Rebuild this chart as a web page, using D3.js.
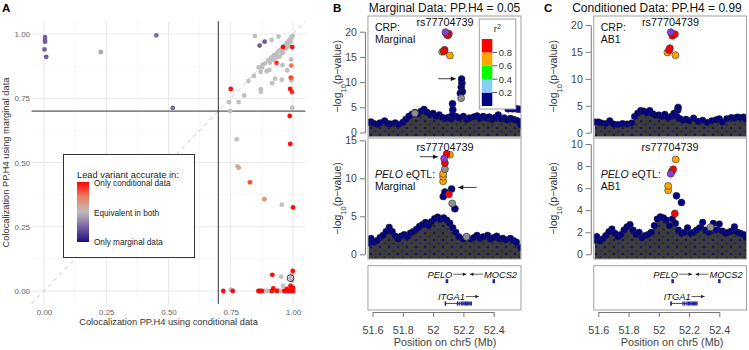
<!DOCTYPE html>
<html><head><meta charset="utf-8">
<script src="https://cdn.jsdelivr.net/npm/d3@7"></script>
<style>body{margin:0;background:#fff}svg{display:block}text{font-family:'Liberation Sans',Arial,sans-serif}</style>
</head><body><svg id="c" width="749" height="350"></svg>
<script>
// ---------------- Panel A data ----------------
const condPP = [0.004,0.004,0.004,0.002,0.009,0.228,0.451,0.517,
 0.847,0.866,0.886,0.914,0.942,0.960,0.997,0.934,0.993,0.991,0.995,0.989,0.996,0.997,0.987,0.989,
 0.750,0.774,0.776,0.782,0.747,0.743,0.782,0.804,0.821,0.843,0.870,0.862,0.871,0.871,0.894,0.878,
 0.916,0.928,0.955,0.905,0.958,0.977,0.992,0.993,
 0.888,0.901,0.914,0.924,0.934,0.945,0.955,0.964,0.975,0.983,0.991,0.999,0.908,0.934,0.955,0.972,
 0.985,0.946,0.960,0.978,0.990,0.995,0.920,0.875,
 0.827,0.885,0.955,1.000,
 0.917,0.952,0.999,0.997,0.997,0.997,0.985,0.921,1.000,0.960,0.990,0.975,0.995,
 0.720,0.750,0.758,0.861,0.867,0.875,0.885,0.893,0.903,0.915,0.925,0.935,0.945,0.955,0.965,0.975,
 0.985,0.992,1.000,0.980,0.940,0.990];
const margPP = [0.988,0.977,0.970,0.940,0.911,0.930,0.995,0.712,
 0.992,0.955,0.970,0.977,0.990,0.949,0.949,0.888,0.877,0.830,0.829,0.786,0.774,0.713,0.681,0.572,
 0.786,0.590,0.486,0.480,0.700,0.735,0.735,0.761,0.817,0.837,0.853,0.870,0.785,0.775,0.855,0.880,
 0.809,0.826,0.822,0.860,0.879,0.859,0.901,0.820,
 0.886,0.899,0.909,0.918,0.925,0.935,0.944,0.953,0.964,0.974,0.983,0.992,0.889,0.909,0.925,0.944,
 0.961,0.912,0.930,0.950,0.970,0.990,0.900,0.870,
 0.423,0.357,0.336,0.325,
 0.063,0.056,0.078,0.065,0.040,0.019,0.012,0.010,0.012,0.020,0.020,0.008,0.005,
 0.000,0.005,0.000,0.000,0.000,0.000,0.000,0.000,0.000,0.000,0.000,0.000,0.000,0.000,0.000,0.000,
 0.000,0.000,0.000,0.003,0.002,0.050];
const leadDiff = [-0.55,-0.55,-0.55,-0.55,-0.6,-0.15,-0.5,-0.5,
 0,-0.6,-0.6,0,0,1,1,0.95,0.6,0.85,0,1,0.95,0,1,1,
 1,0,0,0.3,0,0,0,0,0,0,0,0,0,0,0,0,
 0,0,0,0,0,0,0,0,
 0,0,0,0,0,0,0,0,0,0,0,0,0,0,0,0,
 0,0,0,0,0,0,0,0,
 0.85,0.4,0,1,
 1,0,1,0,0,0,0,1,1,0,1,1,1,
 1,0,1,1,1,1,0,0,0,1,0,1,0,0,1,1,
 1,1,1,0,0,0];
const hlCond = [0.99], hlMarg = [0.05];
const aTicks = [0,0.25,0.5,0.75,1];
const aMinor = [0.125,0.375,0.625,0.875];
const legendLabels = ["Only conditional data","Equivalent in both","Only marginal data"];

// ---------------- Locus data ----------------
const posTicks = [51.6,51.8,52,52.2,52.4];
const r2Breaks = [0.2,0.4,0.6,0.8];
const r2Colors = ["#000080","#87cefa","#00ff00","#ffa500","#ff0000"];

// B top: CRP marginal
const bTopPos  = [51.575,51.59,51.61,51.63,51.65,51.68,51.70,51.72,51.75,51.77,51.80,51.82,51.84,51.86,51.88,51.90,51.92,51.94,51.96,51.98,52.00,52.02,52.04,52.06,52.08,52.10,52.12,52.15,52.17,52.20,52.22,52.24,52.27,52.29,52.31,52.33,52.35,52.37,52.39,52.41,52.43,52.45,52.47,52.49,52.51,52.53,52.55,52.565,52.578];
const bTopLogP = [2.0,2.1,1.8,1.6,1.9,2.3,1.8,1.7,1.9,1.6,2.0,2.6,3.2,3.6,4.0,3.7,4.2,4.6,4.0,3.5,3.8,3.2,3.5,3.0,2.8,3.0,2.7,3.2,2.9,3.2,2.6,2.9,3.1,3.3,2.8,3.2,2.9,3.1,2.6,3.0,3.5,2.7,2.9,2.5,2.8,2.6,2.4,2.2,1.5];
const bTopHitPos  = [52.128,52.130,52.126,52.180,52.193,52.186,52.190,52.188,52.185,52.495,52.524,52.550,52.567,51.880,52.060,52.111,52.076,52.070,52.086,52.098,52.104,52.093,52.082];
const bTopHitLogP = [5.7,4.5,3.4,7.8,8.1,9.0,9.8,10.6,6.8,4.7,4.7,4.7,4.6,3.8,16.0,15.3,16.4,16.1,19.7,19.3,19.6,19.4,19.9];
const bTopHitR2   = ["navy","navy","navy","navy","navy","navy","navy","navy","gray","navy","navy","navy","navy","gray","orange","orange","red","red","orange","red","red","red","lead"];

// B bottom: PELO eQTL marginal
const bBotPos  = [51.575,51.59,51.61,51.63,51.65,51.67,51.69,51.71,51.73,51.75,51.77,51.79,51.81,51.83,51.85,51.87,51.89,51.91,51.93,51.95,51.97,51.99,52.01,52.03,52.05,52.07,52.09,52.11,52.13,52.15,52.17,52.20,52.22,52.25,52.27,52.29,52.31,52.33,52.36,52.38,52.40,52.42,52.44,52.46,52.48,52.51,52.53,52.55,52.578];
const bBotLogP = [1.5,2.1,1.6,1.8,2.2,2.5,3.0,3.55,3.0,2.4,2.0,2.4,2.6,2.3,2.8,3.0,3.3,3.7,3.9,4.2,3.8,4.3,4.7,4.9,4.6,4.8,4.5,4.1,3.5,2.9,2.3,2.0,2.3,2.0,2.2,2.5,2.1,2.3,2.5,2.0,2.2,2.4,2.0,2.1,1.9,2.1,1.8,1.6,0.9];
const bBotHitPos  = [52.220,52.144,52.126,52.067,52.078,52.122,52.104,52.066,52.066,52.066,52.078,52.078,52.111,52.089,52.073];
const bBotHitLogP = [2.3,6.0,6.7,7.6,8.2,8.6,7.9,9.6,10.2,10.6,11.2,12.0,13.1,13.2,12.6];
const bBotHitR2   = ["gray","navy","gray","navy","navy","navy","red","orange","orange","orange","gray","red","orange","red","lead"];

// C top: CRP conditioned (AB1)
const cTopPos  = [51.577,51.60,51.62,51.65,51.676,51.70,51.73,51.76,51.79,51.82,51.84,51.86,51.88,51.90,51.92,51.94,51.96,51.98,52.00,52.02,52.04,52.06,52.08,52.10,52.12,52.14,52.16,52.18,52.20,52.23,52.26,52.29,52.32,52.35,52.38,52.40,52.42,52.45,52.48,52.50,52.52,52.54,52.56,52.578];
const cTopLogP = [2.0,2.0,1.8,1.7,2.2,1.6,1.5,1.7,1.6,1.8,3.0,3.6,4.1,4.0,3.7,4.1,3.5,3.2,3.3,3.0,3.4,2.8,3.0,3.6,3.0,2.6,2.3,2.5,2.2,2.7,2.1,2.3,1.9,2.2,2.4,2.6,2.0,2.6,2.8,2.7,2.9,2.8,2.9,2.5];
const cTopHitPos  = [52.125,52.128,52.110,52.057,52.068,52.073,52.090,52.106,52.079];
const cTopHitLogP = [4.2,4.7,14.4,14.9,15.3,15.7,18.0,18.3,18.66];
const cTopHitR2   = ["navy","navy","orange","orange","red","red","red","red","lead"];

// C bottom: PELO eQTL conditioned (AB1)
const cBotPos  = [51.577,51.59,51.61,51.63,51.65,51.67,51.69,51.71,51.73,51.75,51.77,51.79,51.81,51.83,51.85,51.87,51.89,51.91,51.93,51.95,51.97,51.99,52.01,52.03,52.05,52.07,52.09,52.11,52.13,52.15,52.17,52.19,52.21,52.23,52.25,52.27,52.29,52.31,52.33,52.36,52.38,52.40,52.42,52.44,52.46,52.48,52.50,52.52,52.54,52.56,52.578];
const cBotLogP = [1.3,1.6,1.2,1.4,1.7,2.05,2.3,1.9,1.6,1.8,2.2,2.5,2.7,2.2,1.8,2.0,1.5,1.7,1.8,2.0,2.6,3.2,3.4,3.3,3.1,2.6,3.2,2.8,2.2,1.9,2.0,2.4,1.9,2.0,2.2,2.4,2.9,2.2,2.0,2.8,2.2,2.75,2.1,1.9,2.0,2.1,2.5,2.0,1.9,1.8,1.5];
const cBotHitPos  = [52.342,52.150,52.117,52.106,52.062,52.062,52.086,52.095,52.112,52.079];
const cBotHitLogP = [2.45,4.7,5.3,3.7,5.8,6.2,7.5,7.7,8.6,7.3];
const cBotHitR2   = ["gray","navy","navy","red","orange","orange","red","red","orange","lead"];

// genes
const geneNames  = ["PELO","MOCS2","ITGA1"];
const geneStart  = [52.083,52.392,52.080];
const geneEnd    = [52.100,52.405,52.255];
const geneStrand = ["+","-","+"];
const geneRow    = [0,0,1];
const itga1Exons = [52.080,52.082,52.160,52.172,52.186,52.196,52.204,52.212,52.220,52.228,52.236,52.244,52.252];

// ---------------- drawing ----------------
const svg = d3.select("#c");
const FONT = "'Liberation Sans', Arial, sans-serif";
const defs = svg.append("defs");
// texture of the dense, overlapping background SNP cloud
const pat = defs.append("pattern").attr("id","cloud").attr("patternUnits","userSpaceOnUse").attr("width",9).attr("height",7);
pat.append("rect").attr("width",9).attr("height",7).attr("fill","#3c3c3c");
pat.append("circle").attr("cx",2).attr("cy",2).attr("r",1.3).attr("fill","#17175c");
pat.append("circle").attr("cx",6.5).attr("cy",5.5).attr("r",1.0).attr("fill","#20204f");

// ===== Panel A =====
(function(){
  const x = d3.scaleLinear().domain([0,1]).range([44,293]);
  const y = d3.scaleLinear().domain([0,1]).range([291,34]);
  const lo=-0.05, hi=1.05;
  const g = svg.append("g");
  g.selectAll(".mnx").data(aMinor).join("line").attr("x1",d=>x(d)).attr("x2",d=>x(d)).attr("y1",y(lo)).attr("y2",y(hi)).attr("stroke","#f2f2f2").attr("stroke-width",0.6);
  g.selectAll(".mny").data(aMinor).join("line").attr("y1",d=>y(d)).attr("y2",d=>y(d)).attr("x1",x(lo)).attr("x2",x(hi)).attr("stroke","#f2f2f2").attr("stroke-width",0.6);
  g.selectAll(".mjx").data(aTicks).join("line").attr("x1",d=>x(d)).attr("x2",d=>x(d)).attr("y1",y(lo)).attr("y2",y(hi)).attr("stroke","#e8e8e8").attr("stroke-width",1);
  g.selectAll(".mjy").data(aTicks).join("line").attr("y1",d=>y(d)).attr("y2",d=>y(d)).attr("x1",x(lo)).attr("x2",x(hi)).attr("stroke","#e8e8e8").attr("stroke-width",1);
  g.append("line").attr("x1",x(lo)).attr("y1",y(lo)).attr("x2",x(hi)).attr("y2",y(hi)).attr("stroke","#c8c8c8").attr("stroke-width",1).attr("stroke-dasharray","4,4");
  g.append("line").attr("x1",x(0.7)).attr("x2",x(0.7)).attr("y1",y(lo)).attr("y2",y(hi)).attr("stroke","#333").attr("stroke-width",1);
  g.append("line").attr("y1",y(0.7)).attr("y2",y(0.7)).attr("x1",x(lo)).attr("x2",x(hi)).attr("stroke","#333").attr("stroke-width",1);
  const col = d3.scaleLinear().domain([-1,0,1]).range(["#1b0d82","#bdbdbd","#ff0000"]).interpolate(d3.interpolateLab);
  const idx = d3.range(condPP.length).sort((a,b)=>Math.abs(leadDiff[a])-Math.abs(leadDiff[b]));
  g.selectAll(".pt").data(idx).join("circle").attr("cx",i=>x(condPP[i])).attr("cy",i=>y(margPP[i])).attr("r",2.4).attr("fill",i=>col(leadDiff[i])).attr("opacity",0.95);
  g.selectAll(".hl").data(hlCond).join("circle").attr("cx",(d)=>x(d)).attr("cy",(d,i)=>y(hlMarg[i])).attr("r",3.4).attr("fill","none").attr("stroke","#222").attr("stroke-width",0.9);
  const ax = g.append("g").attr("transform",`translate(0,${y(lo)})`).call(d3.axisBottom(x).tickValues(aTicks).tickSize(0).tickPadding(5).tickFormat(d3.format(".2f")));
  ax.select(".domain").remove();
  ax.selectAll("text").attr("fill","#666").style("font-size","8px").style("font-family",FONT);
  const ay = g.append("g").attr("transform",`translate(${x(lo)},0)`).call(d3.axisLeft(y).tickValues(aTicks).tickSize(0).tickPadding(1.5).tickFormat(d3.format(".2f")));
  ay.select(".domain").remove();
  ay.selectAll("text").attr("fill","#666").style("font-size","8px").style("font-family",FONT);
  g.append("text").attr("x",(x(lo)+x(hi))/2).attr("y",325).attr("text-anchor","middle").attr("fill","#333").style("font-size","9.3px").text("Colocalization PP.H4 using conditional data");
  g.append("text").attr("transform",`translate(9,${(y(lo)+y(hi))/2}) rotate(-90)`).attr("text-anchor","middle").attr("fill","#333").style("font-size","9.3px").text("Colocalization PP.H4 using marginal data");
  const lg = g.append("g");
  lg.append("rect").attr("x",63.5).attr("y",154.5).attr("width",131).attr("height",103).attr("fill","#fff").attr("stroke","#333").attr("stroke-width",1);
  lg.append("text").attr("x",77).attr("y",177.5).attr("fill","#222").style("font-size","9.3px").text("Lead variant accurate in:");
  const gr = defs.append("linearGradient").attr("id","lgA").attr("x1",0).attr("x2",0).attr("y1",0).attr("y2",1);
  [1,0.5,0,-0.5,-1].forEach((v,i)=>gr.append("stop").attr("offset",i/4).attr("stop-color",col(v)));
  lg.append("rect").attr("x",77).attr("y",182).attr("width",12).attr("height",60).attr("fill","url(#lgA)");
  lg.selectAll(".ll").data(legendLabels).join("text").attr("x",94).attr("y",(d,i)=>186+i*29.5).attr("fill","#222").style("font-size","8.2px").text(d=>d);
  svg.append("text").attr("x",2).attr("y",11.5).attr("font-weight","bold").style("font-size","11.5px").text("A");
})();

// ===== Locus panels =====
const r2Fill = {navy:"#000080",lblue:"#87cefa",green:"#00ff00",orange:"#ffa500",red:"#ff0000",gray:"#8f8f8f",lead:"#8a3fd1"};
let clipN=0;
function locus(cfg){
  const x = d3.scaleLinear().domain([51.6,52.4]).range(cfg.xr);
  const y = d3.scaleLinear().domain([0,cfg.ymax]).range(cfg.yr);
  const bx0 = x(51.57), bx1 = x(52.58);
  const g = svg.append("g");
  const id = "clip"+(clipN++);
  defs.append("clipPath").attr("id",id).append("rect").attr("x",bx0).attr("y",cfg.box[0]).attr("width",bx1-bx0).attr("height",cfg.box[1]-cfg.box[0]);
  const p = g.append("g").attr("clip-path",`url(#${id})`);
  const bg = cfg.bgPos.map((d,i)=>[d,cfg.bgLogP[i]]);
  const area = d3.area().x(d=>x(d[0])).y0(y(-2)).y1(d=>y(d[1])+1.5).curve(d3.curveMonotoneX);
  p.append("path").datum(bg).attr("d",area).attr("fill","url(#cloud)");
  p.selectAll(".bg").data(bg).join("circle").attr("cx",d=>x(d[0])).attr("cy",d=>y(d[1])).attr("r",3.3).attr("fill","#000080").attr("stroke","#2a2a2a").attr("stroke-width",0.5);
  p.selectAll(".hit").data(cfg.hitPos.map((d,i)=>i)).join("circle").attr("cx",i=>x(cfg.hitPos[i])).attr("cy",i=>y(cfg.hitLogP[i])).attr("r",3.5)
    .attr("fill",i=>r2Fill[cfg.hitR2[i]]).attr("stroke","#333").attr("stroke-width",0.6);
  g.append("rect").attr("x",bx0).attr("y",cfg.box[0]).attr("width",bx1-bx0).attr("height",cfg.box[1]-cfg.box[0]).attr("fill","none").attr("stroke","#a0a0a0").attr("stroke-width",1);
  const ay = g.append("g").attr("transform",`translate(${bx0-3},0)`).call(d3.axisLeft(y).tickValues(cfg.yticks).tickSize(5).tickSizeOuter(0).tickPadding(3));
  ay.select(".domain").attr("stroke","#777");
  ay.selectAll("line").attr("stroke","#777");
  ay.selectAll("text").attr("fill","#444").style("font-size","10.5px").style("font-family",FONT);
  const t = g.append("text").attr("x",bx0+7).attr("y",cfg.labY).style("font-size","10.5px").attr("fill","#111");
  if(cfg.italic) t.append("tspan").attr("font-style","italic").text(cfg.italic);
  t.append("tspan").text(cfg.lab1);
  g.append("text").attr("x",bx0+7).attr("y",cfg.labY+12).style("font-size","10.5px").attr("fill","#111").text(cfg.lab2);
  g.append("text").attr("x",cfg.rsX).attr("y",cfg.rsY).attr("text-anchor","middle").style("font-size","10.8px").attr("fill","#111").text("rs77704739");
  (cfg.arrows||[]).forEach(a=>{
    g.append("line").attr("x1",x(a[0])).attr("x2",x(a[1])).attr("y1",y(a[2])).attr("y2",y(a[2])).attr("stroke","#111").attr("stroke-width",0.8);
    const dir = a[1]>a[0]?1:-1, hx=x(a[1]), hy=y(a[2]);
    g.append("path").attr("d",`M${hx},${hy}L${hx-5*dir},${hy-2.3}L${hx-5*dir},${hy+2.3}Z`).attr("fill","#111");
  });
  const yt = g.append("text").attr("transform",`translate(${cfg.ytX},${(cfg.box[0]+cfg.box[1])/2}) rotate(-90)`).attr("text-anchor","middle").style("font-size","10.5px").attr("fill","#333");
  yt.append("tspan").text("\u2212log");
  yt.append("tspan").attr("baseline-shift","sub").style("font-size","7.5px").text("10");
  yt.append("tspan").text("(p\u2212value)");
  return {x,y,bx0,bx1};
}

function r2Legend(x0,y0){
  const g = svg.append("g");
  g.append("rect").attr("x",x0).attr("y",y0).attr("width",36.5).attr("height",90).attr("fill","#fff").attr("stroke","#a0a0a0");
  const ys = d3.scaleLinear().domain([0,1]).range([y0+87,y0+20]);
  const segs = d3.range(5);
  g.selectAll(".seg").data(segs).join("rect").attr("x",x0+2.5).attr("width",10.5).attr("y",i=>ys((i+1)/5)).attr("height",i=>ys(i/5)-ys((i+1)/5)).attr("fill",i=>r2Colors[i]);
  g.selectAll(".tk").data(r2Breaks).join("line").attr("x1",x0+13).attr("x2",x0+18).attr("y1",d=>ys(d)).attr("y2",d=>ys(d)).attr("stroke","#555");
  g.selectAll(".tl").data(r2Breaks).join("text").attr("x",x0+19.5).attr("y",d=>ys(d)+3.3).style("font-size","9.5px").attr("fill","#333").text(d=>d.toFixed(1));
  const t = g.append("text").attr("x",x0+18).attr("y",y0+13).attr("text-anchor","middle").style("font-size","9.5px").attr("fill","#333");
  t.append("tspan").text("r");
  t.append("tspan").attr("baseline-shift","super").style("font-size","7px").text("2");
}

function geneTrack(xr, box, axY, titleX){
  const x = d3.scaleLinear().domain([51.6,52.4]).range(xr);
  const bx0 = x(51.57), bx1 = x(52.58);
  const g = svg.append("g");
  g.append("rect").attr("x",bx0).attr("y",box[0]).attr("width",bx1-bx0).attr("height",box[1]-box[0]).attr("fill","none").attr("stroke","#a0a0a0");
  const gc = "#23239b";
  geneNames.forEach((nm,i)=>{
    const gy = box[0]+15.5+geneRow[i]*22.3, ly = gy-7;
    const cx = (x(geneStart[i])+x(geneEnd[i]))/2;
    if(nm==="ITGA1"){
      g.append("line").attr("x1",x(geneStart[i])).attr("x2",x(geneEnd[i])).attr("y1",gy).attr("y2",gy).attr("stroke",gc).attr("stroke-width",0.8);
      g.selectAll(".ex"+i).data(itga1Exons).join("rect").attr("x",d=>x(d)-0.6).attr("width",1.3).attr("y",gy-2).attr("height",4).attr("fill",gc);
    } else {
      g.append("rect").attr("x",x(geneStart[i])).attr("width",Math.max(2.5,x(geneEnd[i])-x(geneStart[i]))).attr("y",gy-2).attr("height",4).attr("fill",gc);
    }
    const t = g.append("text").attr("y",ly+3.3).attr("font-style","italic").style("font-size","9.3px").attr("fill","#111").text(nm);
    const tw = t.node().getComputedTextLength(), aw = 13, tot = tw+aw+1;
    const s = cx - tot/2;
    if(geneStrand[i]==="+"){
      t.attr("x",s);
      const a0=s+tw+1, a1=a0+aw;
      g.append("line").attr("x1",a0).attr("x2",a1).attr("y1",ly).attr("y2",ly).attr("stroke","#222").attr("stroke-width",0.7);
      g.append("path").attr("d",`M${a1},${ly}L${a1-3.5},${ly-1.8}L${a1-3.5},${ly+1.8}Z`).attr("fill","#222");
    } else {
      const a0=s, a1=s+aw;
      g.append("line").attr("x1",a0).attr("x2",a1).attr("y1",ly).attr("y2",ly).attr("stroke","#222").attr("stroke-width",0.7);
      g.append("path").attr("d",`M${a0},${ly}L${a0+3.5},${ly-1.8}L${a0+3.5},${ly+1.8}Z`).attr("fill","#222");
      t.attr("x",a1+1);
    }
  });
  const ax = g.append("g").attr("transform",`translate(0,${axY})`).call(d3.axisBottom(x).tickValues(posTicks).tickSize(5).tickSizeOuter(0).tickPadding(9).tickFormat(d3.format("~g")));
  ax.select(".domain").attr("stroke","#777");
  ax.selectAll("line").attr("stroke","#777");
  ax.selectAll("text").attr("fill","#444").style("font-size","10.8px").style("font-family",FONT);
  g.append("text").attr("x",titleX).attr("y",346).attr("text-anchor","middle").style("font-size","10.8px").attr("fill","#444").text("Position on chr5 (Mb)");
}

// Panel B
svg.append("text").attr("x",333).attr("y",11.5).attr("font-weight","bold").style("font-size","11.5px").text("B");
svg.append("text").attr("x",444.5).attr("y",12).attr("text-anchor","middle").style("font-size","12px").attr("fill","#111").text("Marginal Data: PP.H4 = 0.05");
locus({xr:[372.5,493.7], yr:[132.5,31.7], ymax:20, yticks:[0,5,10,15,20], box:[16,136.7],
  bgPos:bTopPos, bgLogP:bTopLogP, hitPos:bTopHitPos, hitLogP:bTopHitLogP, hitR2:bTopHitR2,
  lab1:"CRP:", lab2:"Marginal", labY:31, rsX:445, rsY:25.5, ytX:341, arrows:[[52.034,52.15,10.67]]});
locus({xr:[372.5,493.7], yr:[254.3,140.3], ymax:15, yticks:[0,5,10,15], box:[138,259],
  bgPos:bBotPos, bgLogP:bBotLogP, hitPos:bBotHitPos, hitLogP:bBotHitLogP, hitR2:bBotHitR2,
  italic:"PELO", lab1:" eQTL:", lab2:"Marginal", labY:177.5, rsX:445, rsY:150.5, ytX:341,
  arrows:[[51.913,52.032,12.84],[52.287,52.166,8.8]]});
r2Legend(479.3,19);
geneTrack([372.5,493.7],[265.7,310],312,445);

// Panel C
svg.append("text").attr("x",544).attr("y",11.5).attr("font-weight","bold").style("font-size","11.5px").text("C");
svg.append("text").attr("x",657).attr("y",12).attr("text-anchor","middle").style("font-size","12px").attr("fill","#111").text("Conditioned Data: PP.H4 = 0.99");
locus({xr:[598.3,719.3], yr:[132.7,25], ymax:20, yticks:[0,5,10,15,20], box:[16,136.7],
  bgPos:cTopPos, bgLogP:cTopLogP, hitPos:cTopHitPos, hitLogP:cTopHitLogP, hitR2:cTopHitR2,
  lab1:"CRP:", lab2:"AB1", labY:31, rsX:670.5, rsY:25.5, ytX:557});
locus({xr:[598.3,719.3], yr:[254.3,144], ymax:10, yticks:[0,2,4,6,8,10], box:[138,259],
  bgPos:cBotPos, bgLogP:cBotLogP, hitPos:cBotHitPos, hitLogP:cBotHitLogP, hitR2:cBotHitR2,
  italic:"PELO", lab1:" eQTL:", lab2:"AB1", labY:177.5, rsX:670, rsY:150.5, ytX:557});
geneTrack([598.3,719.3],[265.7,310],312,672);
</script></body></html>
